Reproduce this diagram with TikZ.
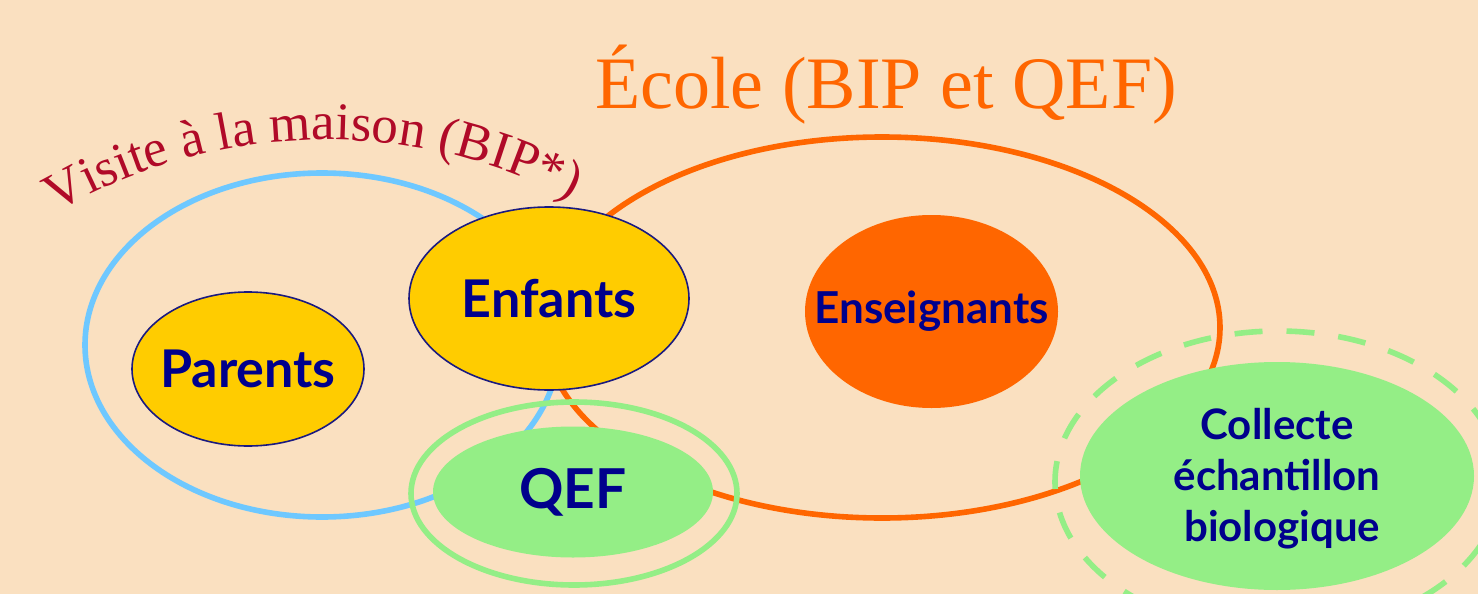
\documentclass[tikz,border=0pt]{standalone}
\usepackage{fontspec}
\setmainfont{Liberation Serif}
\newfontfamily\labelfont{Lato}
\usetikzlibrary{shapes.geometric,decorations.text}
\definecolor{bgpeach}{HTML}{FAE0C0}
\definecolor{skyring}{HTML}{6EC8FF}
\definecolor{orng}{HTML}{FF6600}
\definecolor{yell}{HTML}{FFCC00}
\definecolor{navyline}{HTML}{1A1A80}
\definecolor{navytext}{HTML}{00008C}
\definecolor{lgreen}{HTML}{94EE86}
\definecolor{darkred}{HTML}{B00A28}
\tikzset{
  ring/.style={ellipse, inner sep=0pt, line width=2.8pt},
  person/.style={ellipse, inner sep=0pt, fill=yell, draw=navyline, line width=0.8pt},
  ensbox/.style={ellipse, inner sep=0pt, fill=orng},
  greenbox/.style={ellipse, inner sep=0pt, fill=lgreen},
  lbl/.style={inner sep=0pt, text=navytext, align=center, font=\labelfont\bfseries\fontsize{#1}{25.5}\selectfont},
}
\begin{document}
\begin{tikzpicture}[x=0.5pt,y=-0.5pt]
\fill[bgpeach] (0,0) rectangle (1478,594);
\useasboundingbox (0,0) rectangle (1478,594);
% rings
\node[ring, draw=skyring, minimum width=237pt, minimum height=172pt] (visite) at (322,345) {};
\node[ring, draw=orng, minimum width=338pt, minimum height=190.5pt] (ecole) at (882,327.5) {};
% labels of rings
\node[text=orng, font=\fontsize{37}{40}\selectfont, anchor=base] (titre) at (886,108) {École (BIP et QEF)};
\path[decorate, decoration={text along path, text align=center,
  text={|\fontsize{26.5}{30}\selectfont|Visite à la maison (BIP*)}, text color=darkred}]
  (326,680) ++(198:540) arc[start angle=198, end angle=339, radius=540];
% inner nodes
\node[person, minimum width=140pt, minimum height=91.5pt] (enfants) at (549,298.5) {};
\node[lbl=26] (enfants-t) at (enfants.center) {Enfants};
\node[person, minimum width=116pt, minimum height=77pt] (parents) at (248,369) {};
\node[lbl=26] (parents-t) at (parents.center) {Parents};
\node[ensbox, minimum width=126.5pt, minimum height=96.5pt] (enseignants) at (931.5,311.5) {};
\node[lbl=22] (enseignants-t) at (enseignants.center) {Enseignants};
% QEF
\node[ring, draw=lgreen, minimum width=163pt, minimum height=91.5pt] (qefring) at (574,493.5) {};
\node[greenbox, minimum width=140pt, minimum height=65.5pt] (qef) at (573,492) {};
\node[lbl=27.5] (qef-t) at (qef.center) {QEF};
% Collecte
\node[ring, draw=lgreen, dash pattern=on 14pt off 12pt, minimum width=223pt, minimum height=151pt] (collring) at (1278,482) {};
\node[greenbox, minimum width=197pt, minimum height=114pt] (collecte) at (1277,476) {};
\node[lbl=21] (collecte-t) at ([yshift=-1.5pt]collecte.center) {Collecte\\échantillon\\\ biologique};
\end{tikzpicture}
\end{document}
